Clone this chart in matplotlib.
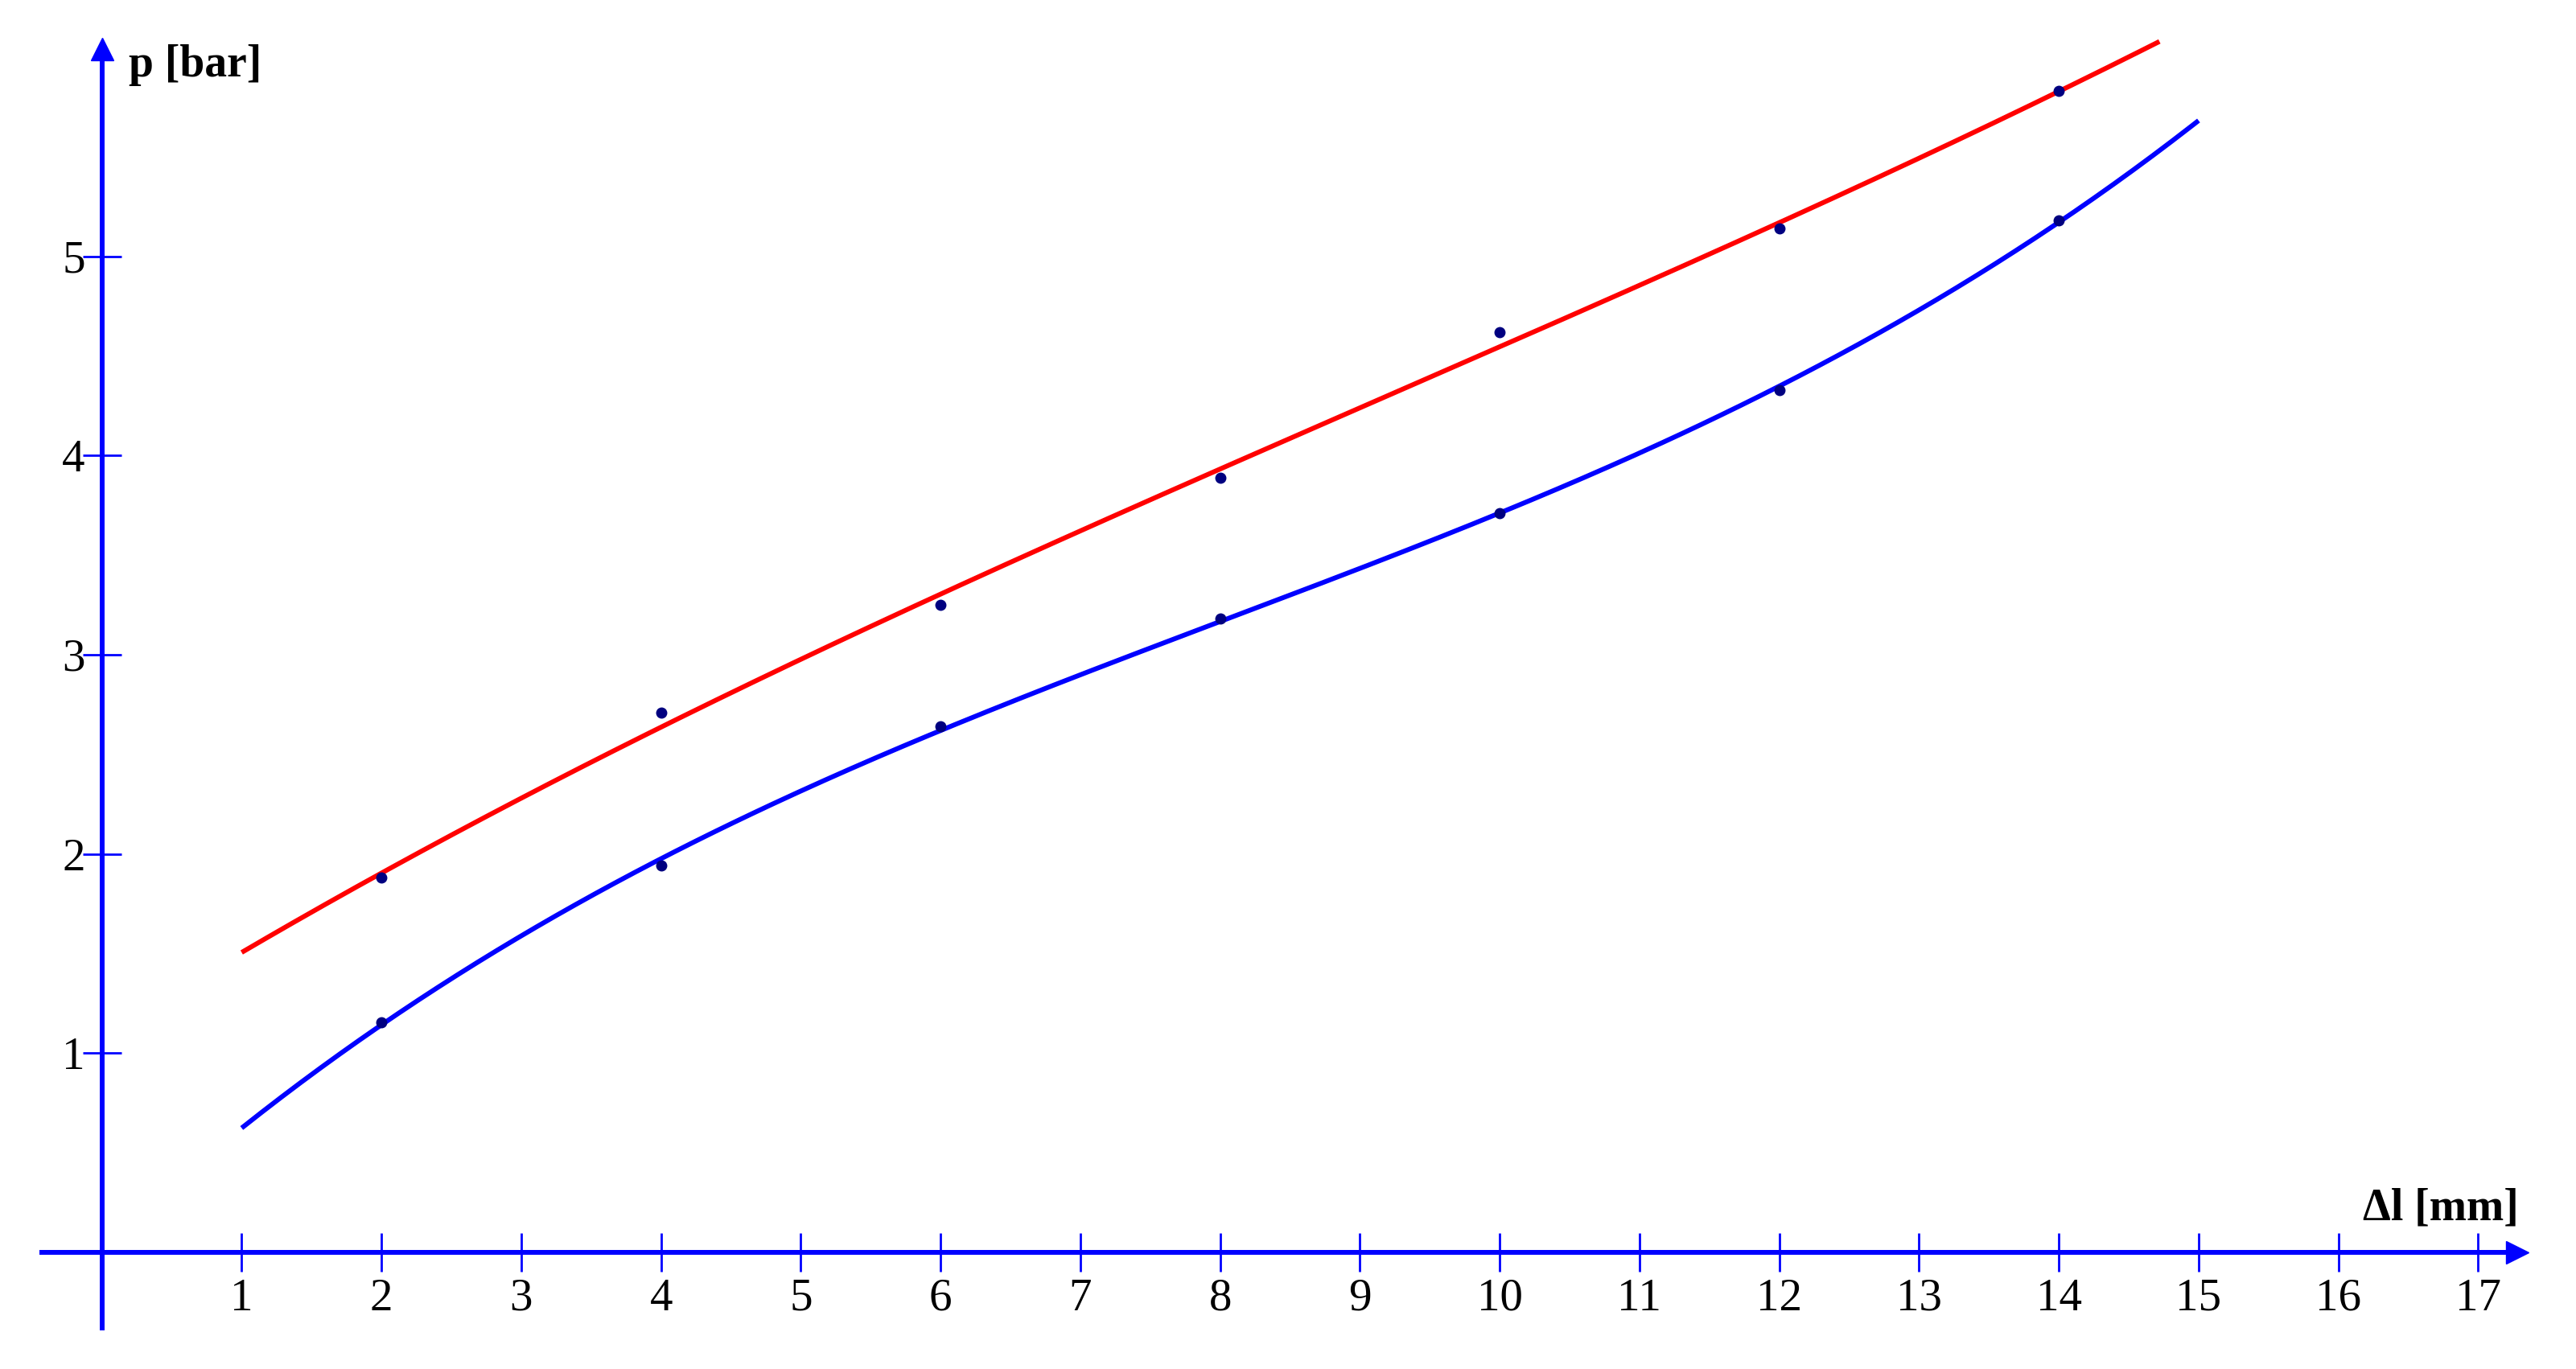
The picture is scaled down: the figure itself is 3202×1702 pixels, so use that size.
import numpy as np
import matplotlib
matplotlib.use("Agg")
import matplotlib.pyplot as plt

# measured points (delta l in mm, p in bar)
dl = np.array([2, 4, 6, 8, 10, 12, 14])
p_upper = np.array([1.88, 2.71, 3.25, 3.89, 4.62, 5.14, 5.83])
p_lower = np.array([1.155, 1.94, 2.64, 3.18, 3.71, 4.33, 5.18])

# range of the fitted curves
upper_range = (1, 14.72)
lower_range = (1, 15)

xticks = list(range(1, 18))
yticks = [1, 2, 3, 4, 5]

plt.rcParams['font.family'] = ['Liberation Serif', 'DejaVu Serif']

fig = plt.figure(figsize=(32.02, 17.02), dpi=100)
ax = fig.add_axes([0, 0, 1, 1])
ax.set_xlim(-0.729, 17.70)
ax.set_ylim(-0.586, 6.287)

# cubic trend lines through the points
for y, rng, col in [(p_upper, upper_range, '#ff0000'), (p_lower, lower_range, '#0000ff')]:
    c = np.polyfit(dl, y, 3)
    xs = np.linspace(rng[0], rng[1], 300)
    ax.plot(xs, np.polyval(c, xs), color=col, lw=4.3, solid_capstyle='butt', zorder=2)

ax.plot(dl, p_upper, 'o', color='#000080', ms=9, zorder=3)
ax.plot(dl, p_lower, 'o', color='#000080', ms=9, zorder=3)

# axes through the origin
blue = '#0000ff'
for s in ['top', 'right']:
    ax.spines[s].set_visible(False)
ax.spines['left'].set_position(('data', 0))
ax.spines['bottom'].set_position(('data', 0))
ax.spines['left'].set_bounds(-0.38, 6.0)
ax.spines['bottom'].set_bounds(-0.43, 17.25)
for s in ['left', 'bottom']:
    ax.spines[s].set_color(blue)
    ax.spines[s].set_linewidth(4.3)

ax.plot([0], [6.04], marker='^', color=blue, ms=20, clip_on=False)
ax.plot([17.28], [0], marker='>', color=blue, ms=20, clip_on=False)

ax.set_xticks(xticks)
ax.set_yticks(yticks)
ax.tick_params(axis='both', direction='inout', length=34, width=2.0, color=blue,
               labelsize=41, labelcolor='black')
ax.tick_params(axis='x', pad=6)
ax.tick_params(axis='y', pad=-2)

ax.text(0.19, 5.96, 'p [bar]', fontsize=40, fontweight='bold', ha='left', va='center')
ax.text(17.29, 0.22, 'Δl [mm]', fontsize=40, fontweight='bold', ha='right', va='center')

fig.savefig('out.png', dpi=100)
